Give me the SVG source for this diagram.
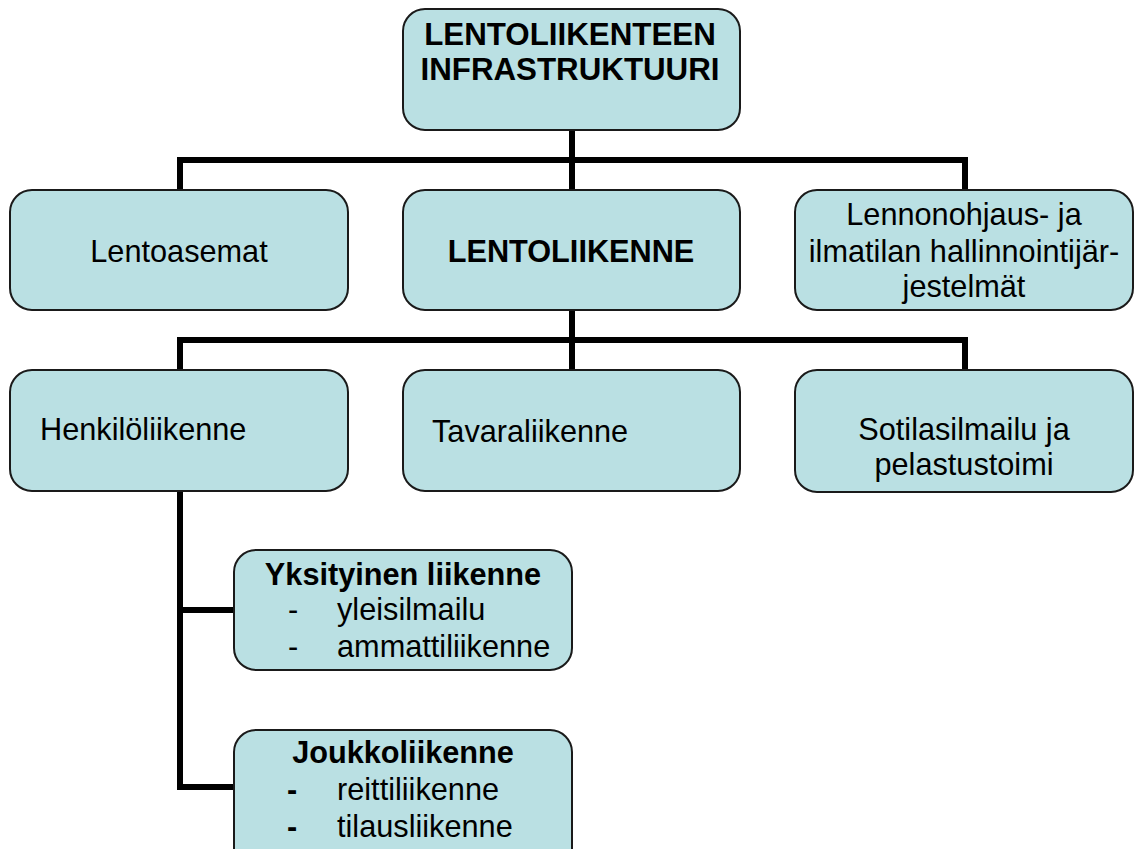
<svg xmlns="http://www.w3.org/2000/svg" width="1136" height="849" viewBox="0 0 1136 849">
<style>
.box{fill:#BAE0E3;stroke:#1a1a1a;stroke-width:2}
.t{font-family:"Liberation Sans",Arial,sans-serif;font-size:30.7px;fill:#000}
.b{font-weight:bold}
.c{text-anchor:middle}
.ln{fill:none;stroke:#000;stroke-width:6;stroke-linejoin:miter;stroke-linecap:butt}
</style>
<rect width="1136" height="849" fill="#fff"/>
<g id="connectors">
<path class="ln" d="M572 130V190M180 190V160H965V190"/>
<path class="ln" d="M572 310V370M180 370V340H965V370"/>
<path class="ln" d="M180 491V787H234M180 610H234"/>
</g>
<g id="n-root">
<rect class="box" x="403" y="9" width="337" height="121" rx="22"/>
<text class="t b c" x="570" y="45" style="font-size:31.3px">LENTOLIIKENTEEN</text>
<text class="t b c" x="570" y="80" style="font-size:31.3px">INFRASTRUKTUURI</text>
</g>
<g id="n-lentoasemat">
<rect class="box" x="10" y="190" width="338" height="120" rx="22"/>
<text class="t c" x="179" y="262">Lentoasemat</text>
</g>
<g id="n-lentoliikenne">
<rect class="box" x="403" y="190" width="337" height="120" rx="22"/>
<text class="t b c" x="571" y="262">LENTOLIIKENNE</text>
</g>
<g id="n-lennonohjaus">
<rect class="box" x="795" y="190" width="338" height="120" rx="22"/>
<text class="t c" x="964" y="225">Lennonohjaus- ja</text>
<text class="t c" x="964" y="262">ilmatilan hallinnointijär-</text>
<text class="t c" x="964" y="297">jestelmät</text>
</g>
<g id="n-henkilo">
<rect class="box" x="10" y="370" width="338" height="121" rx="22"/>
<text class="t" x="40" y="440">Henkilöliikenne</text>
</g>
<g id="n-tavara">
<rect class="box" x="403" y="370" width="337" height="121" rx="22"/>
<text class="t" x="432" y="442">Tavaraliikenne</text>
</g>
<g id="n-sotilas">
<rect class="box" x="795" y="370" width="338" height="122" rx="22"/>
<text class="t c" x="964" y="440">Sotilasilmailu ja</text>
<text class="t c" x="964" y="475">pelastustoimi</text>
</g>
<g id="n-yksityinen">
<rect class="box" x="234" y="550" width="338" height="120" rx="22"/>
<text class="t b c" x="403" y="585">Yksityinen liikenne</text>
<text class="t" x="288" y="620">-</text>
<text class="t" x="337" y="620">yleisilmailu</text>
<text class="t" x="288" y="657">-</text>
<text class="t" x="337" y="657">ammattiliikenne</text>
</g>
<g id="n-joukko">
<rect class="box" x="234" y="730" width="338" height="140" rx="22"/>
<text class="t b c" x="403" y="763">Joukkoliikenne</text>
<text class="t b" x="287" y="800">-</text>
<text class="t" x="337" y="800">reittiliikenne</text>
<text class="t b" x="287" y="837">-</text>
<text class="t" x="337" y="837">tilausliikenne</text>
</g>
</svg>
